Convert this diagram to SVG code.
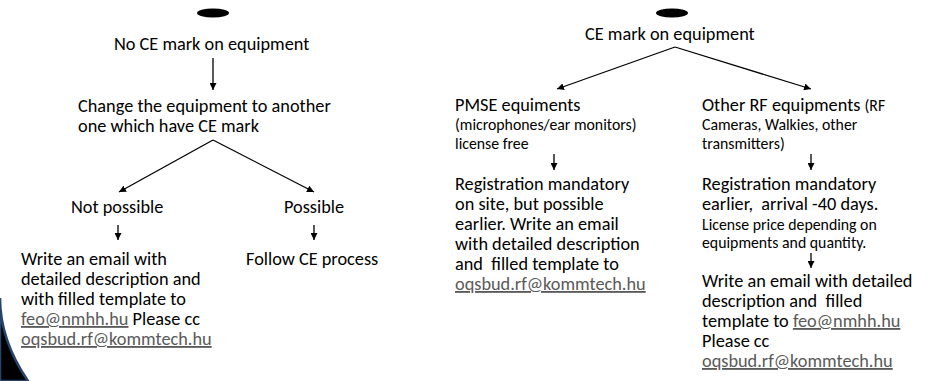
<svg xmlns="http://www.w3.org/2000/svg" width="931" height="381" viewBox="0 0 931 381">
<defs>
<marker id="ah" viewBox="0 0 10 10" refX="10" refY="5" markerWidth="7" markerHeight="7" markerUnits="userSpaceOnUse" orient="auto"><path d="M0,0 L10,5 L0,10 Z" fill="#000"/></marker>
<style>
text{font-family:Carlito,Lato,"Liberation Sans",sans-serif;fill:#000}
.m{font-size:18.3px}
.s{font-size:15.8px}
.lk{fill:#595959;text-decoration:underline}
.c{stroke:#000;stroke-width:1.3;fill:none;marker-end:url(#ah)}
</style>
</defs>
<rect width="931" height="381" fill="#fff"/>
<path d="M0,298 Q0,340 28,381 L0,381 Z" fill="#000" stroke="#24466e" stroke-width="2.5"/>
<g id="connectors">
<line class="c" x1="213" y1="58" x2="213" y2="90"/>
<line class="c" x1="213" y1="140" x2="119" y2="192"/>
<line class="c" x1="213" y1="140" x2="314" y2="192"/>
<line class="c" x1="118" y1="225" x2="118" y2="240"/>
<line class="c" x1="314" y1="225" x2="314" y2="240"/>
<line class="c" x1="675" y1="47" x2="557" y2="89"/>
<line class="c" x1="675" y1="47" x2="811" y2="89"/>
<line class="c" x1="554" y1="154" x2="554" y2="170"/>
<line class="c" x1="811" y1="154" x2="811" y2="170"/>
<line class="c" x1="811" y1="253" x2="811" y2="268"/>
</g>
<g id="start-left"><ellipse cx="213" cy="13" rx="16" ry="4.5" fill="#000"/></g>
<g id="start-right"><ellipse cx="672" cy="13" rx="16" ry="4.5" fill="#000"/></g>
<g id="no-ce"><text class="m" x="114" y="50">No CE mark on equipment</text></g>
<g id="change"><text class="m" x="78" y="112">Change the equipment to another</text><text class="m" x="78" y="132">one which have CE mark</text></g>
<g id="not-possible"><text class="m" x="71" y="213">Not possible</text></g>
<g id="possible"><text class="m" x="284" y="213">Possible</text></g>
<g id="write-left">
<text class="m" x="21" y="265">Write an email with</text>
<text class="m" x="21" y="285">detailed description and</text>
<text class="m" x="21" y="305">with filled template to</text>
<text class="m" x="21" y="325"><tspan class="lk">feo@nmhh.hu</tspan> Please cc</text>
<text class="m" x="21" y="345"><tspan class="lk">oqsbud.rf@kommtech.hu</tspan></text>
</g>
<g id="follow"><text class="m" x="246" y="265">Follow CE process</text></g>
<g id="ce"><text class="m" x="585" y="40">CE mark on equipment</text></g>
<g id="pmse">
<text class="m" x="455" y="111">PMSE equiments</text>
<text class="s" x="455" y="130">(microphones/ear monitors)</text>
<text class="s" x="455" y="149">license free</text>
</g>
<g id="other-rf">
<text x="702" y="111"><tspan class="m">Other RF equipments </tspan><tspan class="s">(RF</tspan></text>
<text class="s" x="702" y="130">Cameras, Walkies, other</text>
<text class="s" x="702" y="149">transmitters)</text>
</g>
<g id="reg-pmse">
<text class="m" x="455" y="190">Registration mandatory</text>
<text class="m" x="455" y="210">on site, but possible</text>
<text class="m" x="455" y="230">earlier. Write an email</text>
<text class="m" x="455" y="250">with detailed description</text>
<text class="m" x="455" y="270" xml:space="preserve">and  filled template to</text>
<text class="m" x="455" y="290"><tspan class="lk">oqsbud.rf@kommtech.hu</tspan></text>
</g>
<g id="reg-rf">
<text class="m" x="702" y="190">Registration mandatory</text>
<text class="m" x="702" y="210" xml:space="preserve">earlier,  arrival -40 days.</text>
<text class="s" x="702" y="230">License price depending on</text>
<text class="s" x="702" y="248">equipments and quantity.</text>
</g>
<g id="write-right">
<text class="m" x="702" y="287">Write an email with detailed</text>
<text class="m" x="702" y="307" xml:space="preserve">description and  filled</text>
<text class="m" x="702" y="327">template to <tspan class="lk">feo@nmhh.hu</tspan></text>
<text class="m" x="702" y="347">Please cc</text>
<text class="m" x="702" y="367"><tspan class="lk">oqsbud.rf@kommtech.hu</tspan></text>
</g>
</svg>
